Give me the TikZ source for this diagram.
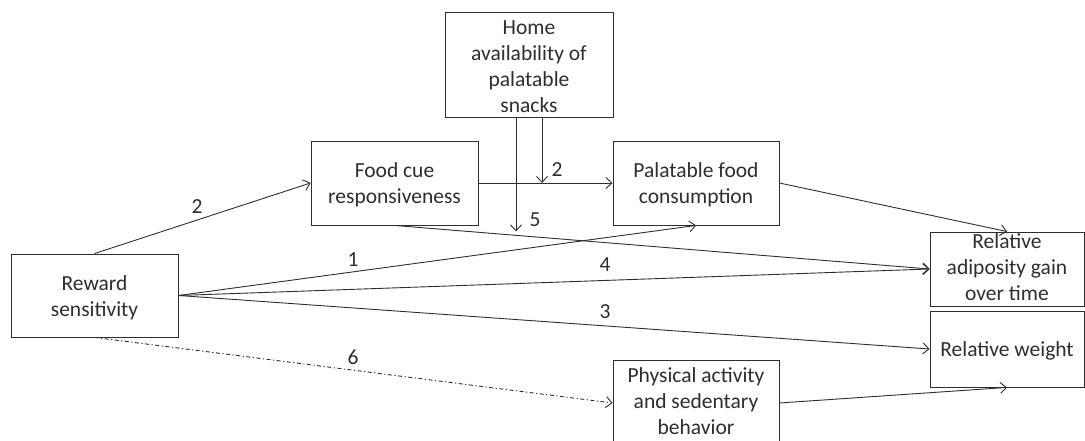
\documentclass[tikz,border=0pt]{standalone}
\usepackage{fontspec}
\setmainfont{Carlito}
\usetikzlibrary{arrows.meta}
\definecolor{ink}{HTML}{2E2E2E}
\begin{document}
\begin{tikzpicture}[x=1pt,y=-1pt,
  box/.style={draw=ink,line width=0.9pt,inner sep=0pt},
  txt/.style={text=ink,align=center,inner sep=0pt,font=\fontsize{21.5}{26}\selectfont},
  lbl/.style={text=ink,inner sep=0pt,font=\fontsize{21.5}{26}\selectfont},
  arr/.style={draw=ink,line width=0.9pt,-{Straight Barb[length=6pt,width=11pt]}},
  dashdot/.style={arr,dash pattern=on 4pt off 2.5pt on 1.2pt off 2.5pt}]
\useasboundingbox (0,0) rectangle (1085,441);

% boxes
\node[box,minimum width=168pt,minimum height=105pt] (home) at (529,64.5) {};
\node[box,minimum width=167pt,minimum height=84pt] (food) at (394.5,183) {};
\node[box,minimum width=166pt,minimum height=84pt] (pal) at (696,183) {};
\node[box,minimum width=167pt,minimum height=83pt] (rew) at (94.5,295.5) {};
\node[box,minimum width=154pt,minimum height=74pt] (adip) at (1007,269) {};
\node[box,minimum width=154pt,minimum height=76pt] (wt) at (1007,349) {};
\node[box,minimum width=166pt,minimum height=86pt] (phys) at (696,403) {};

% box texts
\node[txt] (home-t) at (529,67) {Home\\availability of\\palatable\\snacks};
\node[txt] (food-t) at (394.5,185) {Food cue\\responsiveness};
\node[txt] (pal-t) at (696,185) {Palatable food\\consumption};
\node[txt] (rew-t) at (94.5,298) {Reward\\sensitivity};
\node[txt] (adip-t) at (1007,267) {Relative\\adiposity gain\\over time};
\node[txt] (wt-t) at (1007,351) {Relative weight};
\node[txt] (phys-t) at (696,401) {Physical activity\\and sedentary\\behavior};

% paths
\draw[arr] (rew.north) -- (food.west);
\draw[arr] (food.east) -- (pal.west);
\draw[arr] ([xshift=13pt]home.south) -- ([xshift=13pt]home.south |- food.east);
\draw[arr] ([xshift=-13pt]home.south) -- ++(0,114);
\draw[arr] (rew.east) -- (pal.south);
\draw[arr] (rew.east) -- (adip.west);
\draw[arr] (food.south) -- (adip.west);
\draw[arr] (pal.east) -- (adip.north);
\draw[arr] (rew.east) -- (wt.west);
\draw[dashdot] (rew.south) -- (phys.west);
\draw[arr] (phys.east) -- (wt.south);

% path labels
\node[lbl] (l2a) at (197,207) {2};
\node[lbl] (l2b) at (557,170) {2};
\node[lbl] (l5) at (535,220) {5};
\node[lbl] (l1) at (353,260) {1};
\node[lbl] (l4) at (605,265) {4};
\node[lbl] (l3) at (605,312) {3};
\node[lbl] (l6) at (353,357) {6};
\end{tikzpicture}
\end{document}
